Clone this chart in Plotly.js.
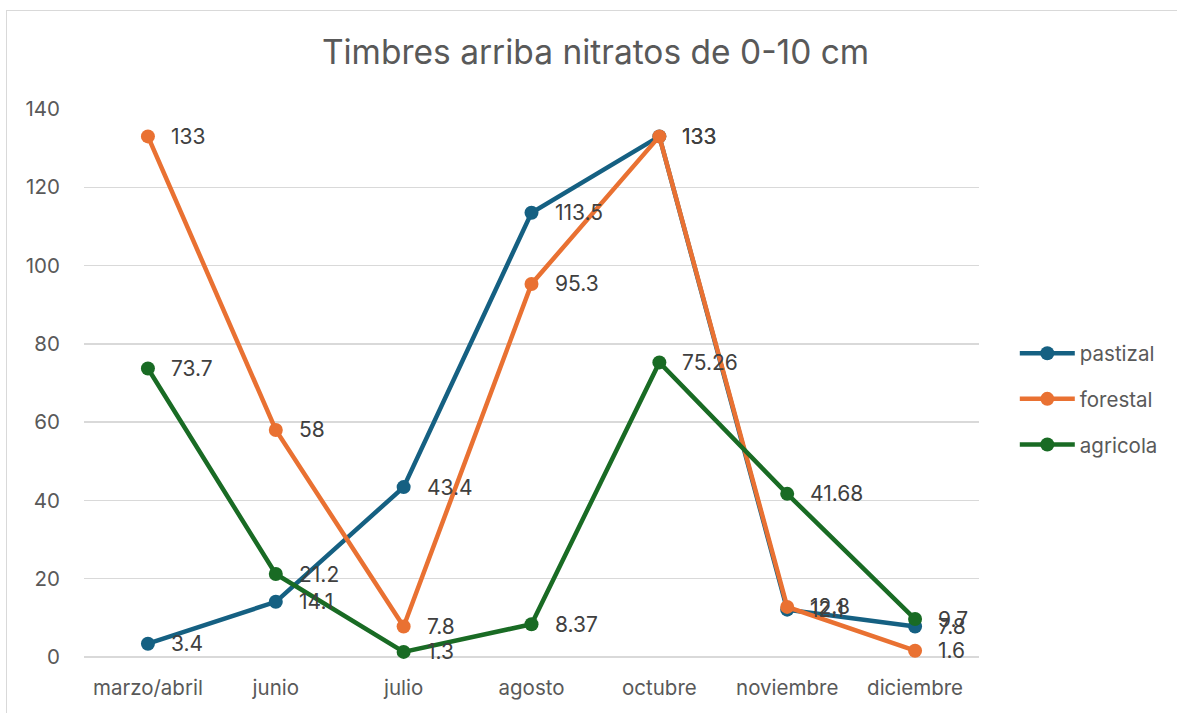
<!DOCTYPE html>
<html><head><meta charset="utf-8">
<script src="https://cdn.plot.ly/plotly-3.0.1.min.js"></script>
<style>
html,body{margin:0;padding:0;background:#fff;overflow:hidden;}
#chart{width:1177px;height:713px;position:absolute;left:0;top:0;}
#frame{position:absolute;left:6px;top:10px;width:1200px;height:720px;border:1.5px solid #d9d9d9;pointer-events:none;box-sizing:border-box;}
</style></head>
<body>
<div id="chart"></div>
<div id="frame"></div>
<script>
const categories = ["marzo/abril","junio","julio","agosto","octubre","noviembre","diciembre"];
const pastizal = [3.4, 14.1, 43.4, 113.5, 133, 12.1, 7.8];
const forestal = [133, 58, 7.8, 95.3, 133, 12.8, 1.6];
const agricola = [73.7, 21.2, 1.3, 8.37, 75.26, 41.68, 9.7];
const seriesNames = ["pastizal","forestal","agricola"];
const seriesColors = ["#156082","#E97132","#196B24"];
const seriesData = [pastizal, forestal, agricola];
const yTicks = [0,20,40,60,80,100,120,140];

const font = "Inter, 'Open Sans', sans-serif";
const traces = seriesData.map((vals,i)=>({
  type:'scatter', mode:'lines+markers', name:seriesNames[i], legendgroup:seriesNames[i],
  x:categories, y:vals,
  line:{color:seriesColors[i], width:4.5},
  marker:{color:seriesColors[i], size:14},
  cliponaxis:false, hoverinfo:'x+y+name'
}));
const annotations = [];
seriesData.forEach((vals,i)=>{
  vals.forEach((v,j)=>{
    annotations.push({x:categories[j], y:v, xref:'x', yref:'y', text:String(v),
      showarrow:false, xanchor:'left', yanchor:'middle', xshift:21,
      font:{family:font, size:21, color:'#404040'}});
  });
});
const layout = {
  width:1177, height:713,
  margin:{l:84, r:198, t:109, b:56},
  paper_bgcolor:'rgba(0,0,0,0)', plot_bgcolor:'#fff',
  title:{text:'Timbres arriba nitratos de 0-10 cm', xref:'container', x:0.506, xanchor:'center', y:0.927, yanchor:'middle',
    font:{family:font, size:33.5, color:'#595959'}},
  xaxis:{type:'category', range:[-0.5, 6.5], showgrid:false, zeroline:false, showline:false,
    ticks:'outside', ticklen:12, tickcolor:'rgba(0,0,0,0)',
    tickfont:{family:font, size:20.5, color:'#595959'}, fixedrange:true},
  yaxis:{range:[0,140], tickvals:yTicks, showgrid:true, gridcolor:'#d9d9d9', gridwidth:1.3,
    zeroline:true, zerolinecolor:'#d9d9d9', zerolinewidth:1.3, showline:false,
    ticks:'outside', ticklen:19, tickcolor:'rgba(0,0,0,0)',
    tickfont:{family:font, size:20.5, color:'#595959'}, fixedrange:true},
  legend:{x:1.04, xanchor:'left', y:0.471, yanchor:'middle', itemwidth:55,
    font:{family:font, size:20.5, color:'#595959'}, tracegroupgap:16, bgcolor:'rgba(0,0,0,0)'},
  annotations:annotations,
  showlegend:true
};
Plotly.newPlot('chart', traces, layout, {displayModeBar:false, staticPlot:true});
</script>
</body></html>
